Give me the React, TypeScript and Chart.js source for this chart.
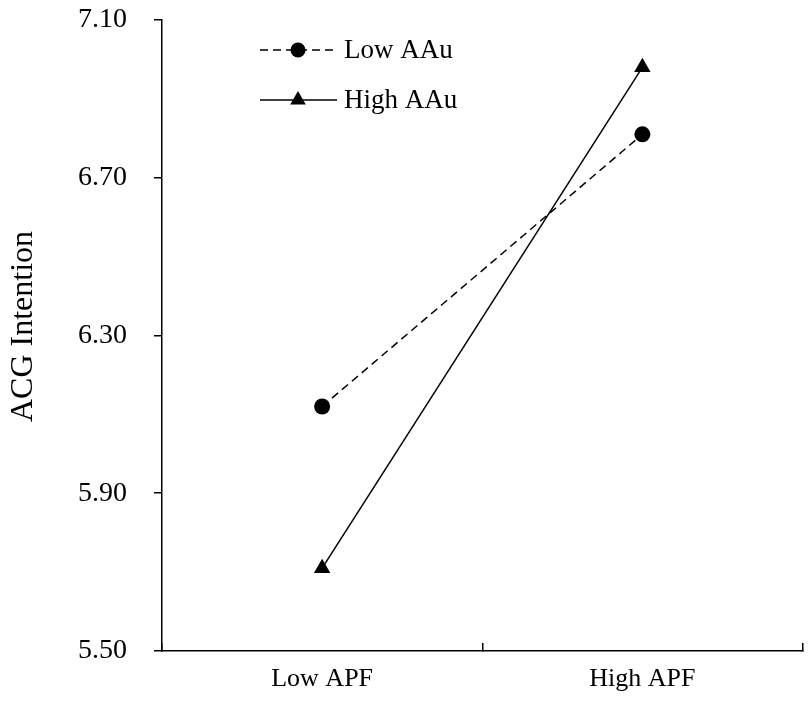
import React, { useEffect, useRef } from 'react';
import { Chart, registerables } from 'chart.js';
import { drawPoint } from 'chart.js/helpers';

Chart.register(...registerables);

// values
const categories = ['Low APF', 'High APF'];
const seriesNames = ['Low AAu', 'High AAu'];
const lowAAu = [6.12, 6.81];
const highAAu = [5.71, 6.98];
const yTicks = [5.5, 5.9, 6.3, 6.7, 7.1];
const yTitle = 'ACG Intention';

const FONT = '"Liberation Serif", "Times New Roman", Times, serif';

// legend drawn inside the plot, line + marker + label like the original
const insideLegend = {
  id: 'insideLegend',
  afterDraw(chart: any) {
    const { ctx, chartArea } = chart;
    ctx.save();
    chart.data.datasets.forEach((ds: any, i: number) => {
      const y = chartArea.top + 30 + i * 50;
      const x0 = chartArea.left + 98;
      ctx.strokeStyle = '#000';
      ctx.fillStyle = '#000';
      ctx.lineWidth = 1.5;
      ctx.setLineDash(ds.borderDash || []);
      ctx.beginPath();
      ctx.moveTo(x0, y);
      ctx.lineTo(x0 + 77, y);
      ctx.stroke();
      ctx.setLineDash([]);
      drawPoint(ctx, { pointStyle: ds.pointStyle, radius: ds.pointStyle === 'triangle' ? 9 : 7.5, rotation: 0, borderWidth: 0 }, x0 + 38, y);
      ctx.font = `27px ${FONT}`;
      ctx.textBaseline = 'middle';
      ctx.textAlign = 'left';
      ctx.fillText(ds.label, x0 + 84, y + 1);
    });
    ctx.restore();
  },
};

// y-axis title, sits a little above the axis middle in the original
const axisTitle = {
  id: 'axisTitle',
  afterDraw(chart: any) {
    const { ctx, chartArea } = chart;
    ctx.save();
    ctx.translate(23.5, (chartArea.top + chartArea.bottom) / 2 - 9);
    ctx.rotate(-Math.PI / 2);
    ctx.font = `32px ${FONT}`;
    ctx.fillStyle = '#000';
    ctx.textAlign = 'center';
    ctx.textBaseline = 'middle';
    ctx.fillText(yTitle, 0, 0);
    ctx.restore();
  },
};

const App: React.FC = () => {
  const canvasRef = useRef<HTMLCanvasElement>(null);

  useEffect(() => {
    document.body.style.margin = '0';
    if (!canvasRef.current) return;

    const chart = new Chart(canvasRef.current, {
      type: 'line',
      data: {
        labels: categories,
        datasets: [
          {
            label: seriesNames[0],
            data: lowAAu,
            borderColor: '#000',
            backgroundColor: '#000',
            borderWidth: 1.5,
            borderDash: [8, 5],
            pointStyle: 'circle',
            pointRadius: 8,
            pointBorderWidth: 0,
            pointBackgroundColor: '#000',
            tension: 0,
          },
          {
            label: seriesNames[1],
            data: highAAu,
            borderColor: '#000',
            backgroundColor: '#000',
            borderWidth: 1.5,
            pointStyle: 'triangle',
            pointRadius: 9.5,
            pointBorderWidth: 0,
            pointBackgroundColor: '#000',
            tension: 0,
          },
        ],
      },
      options: {
        responsive: true,
        maintainAspectRatio: false,
        animation: false,
        layout: { padding: { top: 20, right: 5, left: 0, bottom: 0 } },
        plugins: {
          legend: { display: false },
          tooltip: { enabled: false },
        },
        scales: {
          x: {
            type: 'category',
            offset: true,
            grid: {
              offset: true,
              drawOnChartArea: false,
              drawTicks: true,
              tickLength: -8,
              color: '#000',
              lineWidth: 1.5,
            },
            border: { display: true, color: '#000', width: 1.5 },
            ticks: {
              color: '#000',
              padding: 21,
              font: { family: FONT, size: 26 },
            },
            afterFit: (scale: any) => {
              scale.height = 54;
              scale.paddingLeft = 0;
              scale.paddingRight = 0;
            },
          },
          y: {
            min: 5.5,
            max: 7.1,
            grid: {
              drawOnChartArea: false,
              drawTicks: true,
              tickLength: 8,
              color: '#000',
              lineWidth: 1.5,
            },
            border: { display: true, color: '#000', width: 1.5 },
            ticks: {
              color: '#000',
              padding: 27,
              font: { family: FONT, size: 28 },
              callback: (v: any) => Number(v).toFixed(2),
            },
            afterBuildTicks: (scale: any) => {
              scale.ticks = yTicks.map((v) => ({ value: v }));
            },
            afterFit: (scale: any) => {
              scale.width = 162;
              scale.paddingTop = 0;
              scale.paddingBottom = 0;
            },
          },
        },
      },
      plugins: [insideLegend, axisTitle],
    });

    return () => chart.destroy();
  }, []);

  return (
    <div style={{ width: 812, height: 705, position: 'relative', background: '#fff' }}>
      <canvas ref={canvasRef}></canvas>
    </div>
  );
};

export default App;
